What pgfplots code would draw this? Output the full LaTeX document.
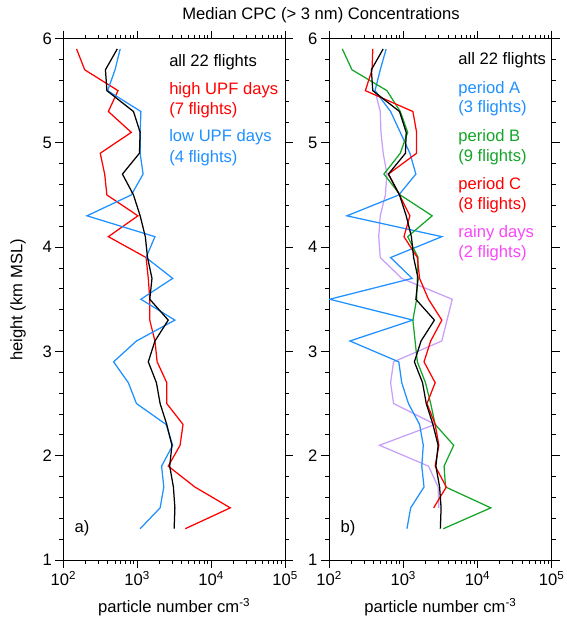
\documentclass[border=0pt]{standalone}
\usepackage{pgfplots}
\pgfplotsset{compat=1.18}
\usepackage{fontspec}
\setmainfont{Liberation Sans}
\definecolor{cblue}{RGB}{30,144,255}
\definecolor{cred}{RGB}{255,0,0}
\definecolor{cgreen}{RGB}{20,165,40}
\definecolor{cpurple}{RGB}{200,160,250}
\definecolor{cmagenta}{RGB}{250,70,250}
\newcommand{\fs}{\fontsize{16.6}{19}\selectfont}
\begin{document}
\begin{tikzpicture}
\path[use as bounding box] (0,0) rectangle (567pt,-627pt);
\node[font=\fs] at (321pt,-15pt) {Median CPC (> 3 nm) Concentrations};
\node[font=\fs, rotate=90] at (18pt,-300pt) {height (km MSL)};
% panel a
\begin{axis}[scale only axis, width=221.7pt, height=521.5pt, at={(63.3pt,-560pt)}, anchor=south west,
  xmode=log, xmin=100, xmax=100000, ymin=1, ymax=6,
  xtick={100,1000,10000,100000},
  xticklabels={10\textsuperscript{2},10\textsuperscript{3},10\textsuperscript{4},10\textsuperscript{5}},
  minor xtick={200,300,400,500,600,700,800,900,2000,3000,4000,5000,6000,7000,8000,9000,20000,30000,40000,50000,60000,70000,80000,90000},
  ytick={1,2,3,4,5,6}, yticklabels={1,2,3,4,5,6},
  minor ytick={1.2,1.4,1.6,1.8,2.2,2.4,2.6,2.8,3.2,3.4,3.6,3.8,4.2,4.4,4.6,4.8,5.2,5.4,5.6,5.8},
  tick align=outside, major tick length=8pt, minor tick length=4pt,
  axis line style={line width=0.8pt},
  every tick/.style={black, line width=0.8pt},
  tick label style={font=\fs},
  xlabel={particle number cm\textsuperscript{-3}},
  xlabel style={font=\fs, yshift=-5pt},
  every axis plot/.append style={line width=1.25pt, mark=none}]
\addplot[cred] coordinates {(151,5.9)(195,5.7)(550,5.5)(407,5.3)(832,5.1)(316,4.9)(363,4.7)(389,4.5)(1023,4.3)(407,4.1)(1318,3.9)(1413,3.7)(1479,3.5)(1479,3.3)(1738,3.1)(1862,2.9)(2512,2.7)(2512,2.5)(4169,2.3)(3802,2.1)(2630,1.9)(6026,1.7)(18197,1.5)(4467,1.3)};
\addplot[cblue] coordinates {(589,5.9)(501,5.7)(398,5.5)(1122,5.3)(1096,5.1)(1096,4.9)(1202,4.7)(832,4.5)(209,4.3)(1738,4.1)(1318,3.9)(3020,3.7)(1122,3.5)(3236,3.3)(977,3.1)(479,2.9)(759,2.7)(977,2.5)(2455,2.3)(3020,2.1)(2138,1.9)(2291,1.7)(2042,1.5)(1096,1.3)};
\addplot[black] coordinates {(537,5.9)(372,5.7)(389,5.5)(891,5.3)(1096,5.1)(1072,4.9)(631,4.7)(891,4.5)(1096,4.3)(1288,4.1)(1380,3.9)(1585,3.7)(1479,3.5)(2630,3.3)(1738,3.1)(1413,2.9)(1820,2.7)(2042,2.5)(2512,2.3)(2951,2.1)(2754,1.9)(3090,1.7)(3236,1.5)(3162,1.3)};
\node[font=\fs, anchor=west, text=black] at (rel axis cs:0.462,0.955) {all 22 flights};
\node[font=\fs, anchor=west, text=cred] at (rel axis cs:0.462,0.901) {high UPF days};
\node[font=\fs, anchor=west, text=cred] at (rel axis cs:0.462,0.863) {(7 flights)};
\node[font=\fs, anchor=west, text=cblue] at (rel axis cs:0.462,0.811) {low UPF days};
\node[font=\fs, anchor=west, text=cblue] at (rel axis cs:0.462,0.771) {(4 flights)};
\node[font=\fs] at (rel axis cs:0.084,0.061) {a)};
\end{axis}
% panel b
\begin{axis}[scale only axis, width=222.7pt, height=521.5pt, at={(329pt,-560pt)}, anchor=south west,
  xmode=log, xmin=100, xmax=100000, ymin=1, ymax=6,
  xtick={100,1000,10000,100000},
  xticklabels={10\textsuperscript{2},10\textsuperscript{3},10\textsuperscript{4},10\textsuperscript{5}},
  minor xtick={200,300,400,500,600,700,800,900,2000,3000,4000,5000,6000,7000,8000,9000,20000,30000,40000,50000,60000,70000,80000,90000},
  ytick={1,2,3,4,5,6}, yticklabels={1,2,3,4,5,6},
  minor ytick={1.2,1.4,1.6,1.8,2.2,2.4,2.6,2.8,3.2,3.4,3.6,3.8,4.2,4.4,4.6,4.8,5.2,5.4,5.6,5.8},
  tick align=outside, major tick length=8pt, minor tick length=4pt,
  axis line style={line width=0.8pt},
  every tick/.style={black, line width=0.8pt},
  tick label style={font=\fs},
  xlabel={particle number cm\textsuperscript{-3}},
  xlabel style={font=\fs, yshift=-5pt},
  every axis plot/.append style={line width=1.25pt, mark=none}]
\addplot[cpurple] coordinates {(417,5.5)(490,5.3)(501,5.1)(537,4.9)(603,4.7)(575,4.5)(490,4.3)(468,4.1)(490,3.9)(955,3.7)(4571,3.5)(3890,3.3)(3311,3.1)(741,2.9)(676,2.7)(741,2.5)(2692,2.3)(479,2.1)(2188,1.9)(2951,1.7)(3020,1.5)};
\addplot[cblue] coordinates {(589,5.9)(490,5.7)(417,5.5)(676,5.3)(912,5.1)(1230,4.9)(1479,4.7)(871,4.5)(174,4.3)(3311,4.1)(676,3.9)(1318,3.7)(102,3.5)(1349,3.3)(191,3.1)(871,2.9)(955,2.7)(1175,2.5)(1660,2.3)(1862,2.1)(1778,1.9)(1905,1.7)(1259,1.5)(1122,1.3)};
\addplot[cgreen] coordinates {(151,5.9)(204,5.7)(603,5.5)(912,5.3)(1148,5.1)(912,4.9)(550,4.7)(912,4.5)(2455,4.3)(1148,4.1)(1585,3.9)(1549,3.7)(1514,3.5)(1349,3.3)(1445,3.1)(1549,2.9)(1995,2.7)(2344,2.5)(2692,2.3)(4786,2.1)(3548,1.9)(3715,1.7)(15136,1.5)(3467,1.3)};
\addplot[cred] coordinates {(389,5.9)(380,5.7)(309,5.5)(1349,5.3)(1514,5.1)(1514,4.9)(631,4.7)(891,4.5)(1230,4.3)(1023,4.1)(1549,3.9)(1660,3.7)(2188,3.5)(3311,3.3)(2344,3.1)(1905,2.9)(2692,2.7)(2089,2.5)(2692,2.3)(3020,2.1)(2692,1.9)(3802,1.7)(2570,1.5)};
\addplot[black] coordinates {(537,5.9)(372,5.7)(389,5.5)(891,5.3)(1096,5.1)(1072,4.9)(631,4.7)(891,4.5)(1096,4.3)(1288,4.1)(1380,3.9)(1585,3.7)(1479,3.5)(2630,3.3)(1738,3.1)(1413,2.9)(1820,2.7)(2042,2.5)(2512,2.3)(2951,2.1)(2754,1.9)(3090,1.7)(3236,1.5)(3162,1.3)};
\node[font=\fs, anchor=west, text=black] at (rel axis cs:0.565,0.959) {all 22 flights};
\node[font=\fs, anchor=west, text=cblue] at (rel axis cs:0.565,0.903) {period A};
\node[font=\fs, anchor=west, text=cblue] at (rel axis cs:0.565,0.867) {(3 flights)};
\node[font=\fs, anchor=west, text=cgreen] at (rel axis cs:0.565,0.811) {period B};
\node[font=\fs, anchor=west, text=cgreen] at (rel axis cs:0.565,0.773) {(9 flights)};
\node[font=\fs, anchor=west, text=cred] at (rel axis cs:0.565,0.719) {period C};
\node[font=\fs, anchor=west, text=cred] at (rel axis cs:0.565,0.681) {(8 flights)};
\node[font=\fs, anchor=west, text=cmagenta] at (rel axis cs:0.565,0.627) {rainy days};
\node[font=\fs, anchor=west, text=cmagenta] at (rel axis cs:0.565,0.589) {(2 flights)};
\node[font=\fs] at (rel axis cs:0.085,0.061) {b)};
\end{axis}
\end{tikzpicture}
\end{document}
